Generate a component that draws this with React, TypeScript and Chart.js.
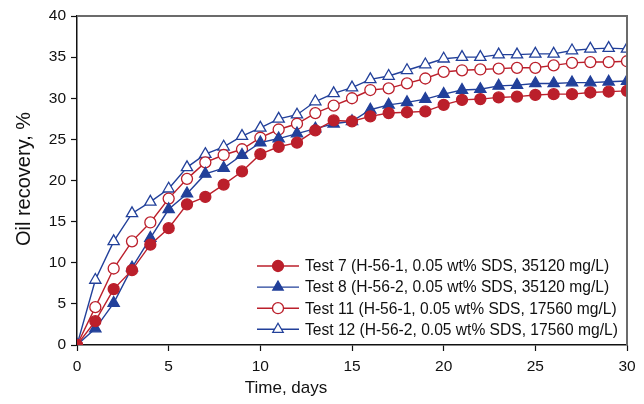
import React, { useEffect, useRef } from "react";
import { Chart, registerables } from "chart.js";
Chart.register(...registerables);

const days = [0,1,2,3,4,5,6,7,8,9,10,11,12,13,14,15,16,17,18,19,20,21,22,23,24,25,26,27,28,29,30];
const test7 = [0,2.9,6.8,9.1,12.2,14.2,17.1,18.0,19.5,21.1,23.2,24.1,24.6,26.1,27.3,27.2,27.8,28.2,28.3,28.4,29.2,29.8,29.9,30.1,30.2,30.4,30.5,30.5,30.7,30.8,30.9];
const test8 = [0,2.0,5.1,9.4,13.0,16.5,18.4,20.8,21.5,23.1,24.6,25.1,25.7,26.3,26.9,27.2,28.6,29.2,29.5,29.9,30.5,31.0,31.1,31.5,31.6,31.8,31.8,31.9,31.9,32.0,32.1];
const test11 = [0,4.6,9.3,12.6,14.9,17.8,20.2,22.2,23.1,23.8,25.2,26.2,26.9,28.2,29.1,30.0,31.0,31.2,31.8,32.4,33.2,33.4,33.5,33.6,33.7,33.7,34.0,34.3,34.4,34.4,34.5];
const test12 = [0,7.9,12.6,16.0,17.4,19.0,21.6,23.2,24.1,25.4,26.4,27.5,28.0,29.6,30.6,31.3,32.3,32.7,33.4,34.1,34.8,35.0,35.0,35.3,35.3,35.4,35.4,35.8,36.0,36.1,36.0];
const labels = [
  "Test 7 (H-56-1, 0.05 wt% SDS, 35120 mg/L)",
  "Test 8 (H-56-2, 0.05 wt% SDS, 35120 mg/L)",
  "Test 11 (H-56-1, 0.05 wt% SDS, 17560 mg/L)",
  "Test 12 (H-56-2, 0.05 wt% SDS, 17560 mg/L)",
];
const xTitle = "Time, days";
const yTitle = "Oil recovery, %";

const RED = "#BB1F2B";
const BLUE = "#22409A";
const FONT = "'Liberation Sans', Arial, sans-serif";

export default function App() {
  const ref = useRef<HTMLCanvasElement>(null);
  useEffect(() => {
    const mk = (d: number[]) => d.map((v, i) => ({ x: days[i], y: v }));
    const series = [
      { label: labels[0], data: mk(test7), color: RED, style: "circle", fill: true, r: 5.5 },
      { label: labels[1], data: mk(test8), color: BLUE, style: "triangle", fill: true, r: 6.5 },
      { label: labels[2], data: mk(test11), color: RED, style: "circle", fill: false, r: 5.5 },
      { label: labels[3], data: mk(test12), color: BLUE, style: "triangle", fill: false, r: 6.5 },
    ];
    const datasets = series.map((s) => ({
      label: s.label,
      data: s.data,
      borderColor: s.color,
      backgroundColor: s.fill ? s.color : "#ffffff",
      pointBorderColor: s.color,
      pointBackgroundColor: s.fill ? s.color : "#ffffff",
      pointStyle: s.style as any,
      pointRadius: s.r,
      pointBorderWidth: 1.3,
      borderWidth: 1.4,
      tension: 0,
    }));
    const overlay = {
      id: "overlay",
      afterDraw(chart: any) {
        const ctx = chart.ctx;
        const a = chart.chartArea;
        ctx.save();
        ctx.strokeStyle = "#6b6b6b";
        ctx.lineWidth = 2;
        ctx.beginPath();
        ctx.moveTo(a.left, a.top);
        ctx.lineTo(a.right, a.top);
        ctx.lineTo(a.right, a.bottom);
        ctx.stroke();
        ctx.fillStyle = "#111";
        ctx.textAlign = "center";
        ctx.textBaseline = "middle";
        ctx.font = `17px ${FONT}`;
        ctx.fillText(xTitle, 286, 388);
        ctx.save();
        ctx.translate(24, 179);
        ctx.rotate(-Math.PI / 2);
        ctx.font = `20px ${FONT}`;
        ctx.fillText(yTitle, 0, 0);
        ctx.restore();
        ctx.font = `15.6px ${FONT}`;
        ctx.textAlign = "left";
        const x0 = 257, x1 = 299, xm = 278, xt = 305;
        series.forEach((s, i) => {
          const y = 266 + i * 21.1;
          ctx.strokeStyle = s.color;
          ctx.lineWidth = 1.4;
          ctx.beginPath();
          ctx.moveTo(x0, y);
          ctx.lineTo(x1, y);
          ctx.stroke();
          const isCircle = s.style === "circle";
          const r = isCircle ? 5.5 : 6;
          ctx.fillStyle = s.fill ? s.color : "#fff";
          ctx.lineWidth = 1.3;
          ctx.beginPath();
          if (isCircle) {
            ctx.arc(xm, y, r, 0, Math.PI * 2);
          } else {
            const h = r * 0.5;
            ctx.moveTo(xm, y - r);
            ctx.lineTo(xm + r * 0.866, y + h);
            ctx.lineTo(xm - r * 0.866, y + h);
            ctx.closePath();
          }
          ctx.fill();
          ctx.stroke();
          ctx.fillStyle = "#111";
          ctx.fillText(s.label, xt, y + 1);
        });
        ctx.restore();
      },
    };
    const chart = new Chart(ref.current!, {
      type: "line",
      data: { datasets: datasets as any },
      options: {
        responsive: false,
        animation: false,
        layout: { padding: { left: 0, top: 16, right: 17, bottom: 0 } },
        plugins: { legend: { display: false }, tooltip: { enabled: false } },
        scales: {
          x: {
            type: "linear",
            min: 0,
            max: 30,
            afterFit: (s: any) => { s.height = 59; },
            ticks: { stepSize: 5, color: "#111", font: { size: 15.5, family: FONT }, padding: 6, maxRotation: 0 },
            grid: { drawOnChartArea: false, tickLength: 6, tickColor: "#111", tickWidth: 1.2 },
            border: { color: "#111", width: 1.5 },
          },
          y: {
            type: "linear",
            min: 0,
            max: 40,
            afterFit: (s: any) => { s.width = 77; },
            ticks: { stepSize: 5, color: "#111", font: { size: 15.5, family: FONT }, padding: 5 },
            grid: { drawOnChartArea: false, tickLength: 6, tickColor: "#111", tickWidth: 1.2 },
            border: { color: "#111", width: 1.5 },
          },
        },
      },
      plugins: [overlay],
    });
    return () => chart.destroy();
  }, []);
  return (
    <div style={{ position: "fixed", left: 0, top: 0, width: 644, height: 404, background: "#fff" }}>
      <canvas ref={ref} width={644} height={404} style={{ display: "block" }} />
    </div>
  );
}
